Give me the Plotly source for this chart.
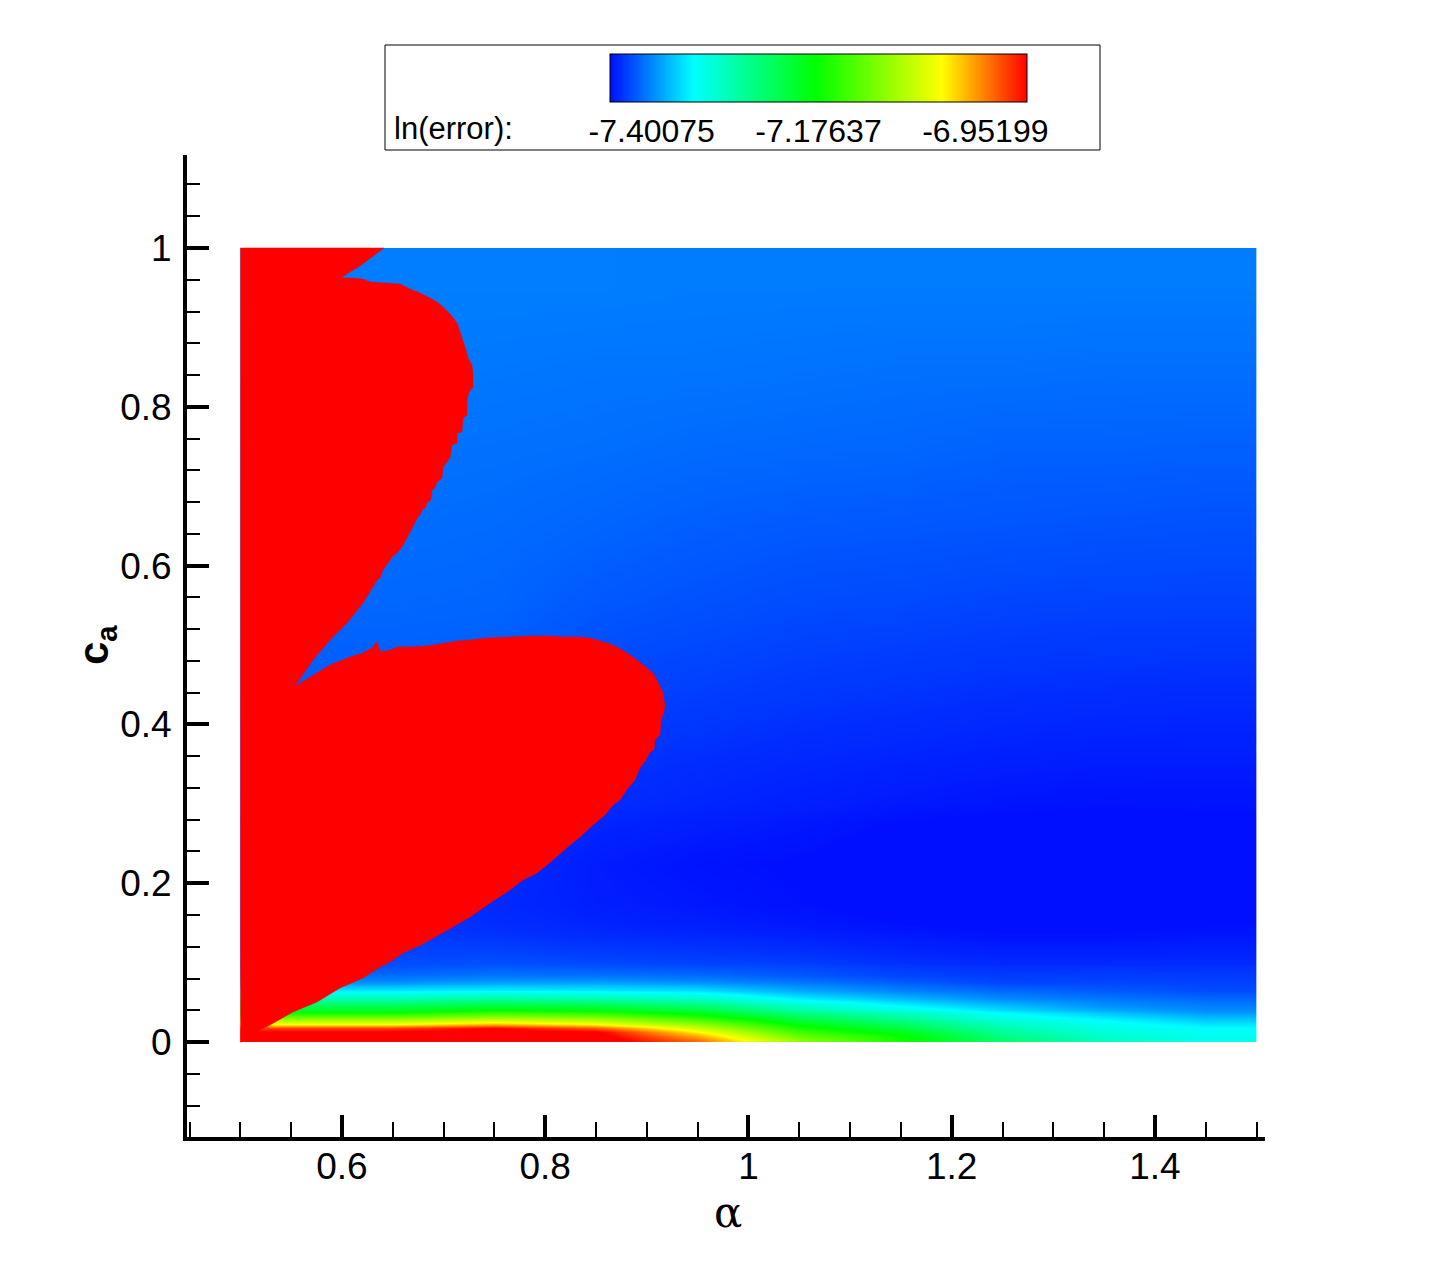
import numpy as np
import plotly.graph_objects as go

# ---------------- data ----------------
alpha_edges = [0.5, 0.6, 0.7, 0.8, 0.9, 1.0, 1.1, 1.2, 1.3, 1.4, 1.5]
ca_edges = [0, 0.005, 0.01, 0.015, 0.02, 0.025, 0.03, 0.035, 0.04, 0.05, 0.06, 0.07,
            0.08, 0.09, 0.1, 0.125, 0.15, 0.2, 0.25, 0.3, 0.4, 0.5, 0.6, 0.7, 0.8, 0.9, 1.0]

# ln(error) per alpha column (cell centres 0.55 ... 1.45), bottom -> top
ln_err_a055 = [-6.873, -6.879, -6.890, -6.924, -7.014, -7.070, -7.126, -7.180, -7.230, -7.298, -7.356, -7.395, -7.414,
               -7.425, -7.432, -7.437, -7.440, -7.437, -7.433, -7.428, -7.421, -7.416, -7.413, -7.410, -7.407, -7.405]
ln_err_a065 = [-6.873, -6.879, -6.890, -6.924, -7.014, -7.070, -7.126, -7.180, -7.230, -7.298, -7.356, -7.395, -7.414,
               -7.425, -7.432, -7.437, -7.440, -7.437, -7.433, -7.428, -7.421, -7.416, -7.413, -7.410, -7.407, -7.405]
ln_err_a075 = [-6.873, -6.879, -6.885, -6.896, -6.980, -7.045, -7.098, -7.150, -7.213, -7.286, -7.352, -7.388, -7.409,
               -7.421, -7.432, -7.441, -7.445, -7.442, -7.437, -7.430, -7.422, -7.417, -7.414, -7.411, -7.408, -7.405]
ln_err_a085 = [-6.873, -6.882, -6.890, -6.935, -7.014, -7.064, -7.112, -7.162, -7.221, -7.294, -7.355, -7.388, -7.411,
               -7.424, -7.436, -7.445, -7.450, -7.451, -7.447, -7.440, -7.432, -7.423, -7.417, -7.412, -7.409, -7.405]
ln_err_a095 = [-6.946, -6.972, -7.005, -7.044, -7.084, -7.124, -7.165, -7.199, -7.248, -7.312, -7.361, -7.395, -7.414,
               -7.427, -7.438, -7.447, -7.453, -7.455, -7.450, -7.443, -7.434, -7.426, -7.420, -7.414, -7.409, -7.406]
ln_err_a105 = [-7.088, -7.113, -7.138, -7.163, -7.189, -7.216, -7.242, -7.268, -7.308, -7.354, -7.386, -7.407, -7.423,
               -7.430, -7.441, -7.450, -7.456, -7.457, -7.453, -7.446, -7.437, -7.429, -7.422, -7.415, -7.410, -7.406]
ln_err_a115 = [-7.169, -7.176, -7.197, -7.220, -7.243, -7.265, -7.288, -7.310, -7.345, -7.378, -7.404, -7.420, -7.432,
               -7.437, -7.446, -7.453, -7.460, -7.461, -7.457, -7.448, -7.439, -7.430, -7.423, -7.416, -7.411, -7.406]
ln_err_a125 = [-7.251, -7.264, -7.278, -7.292, -7.307, -7.321, -7.335, -7.349, -7.373, -7.400, -7.416, -7.432, -7.437,
               -7.441, -7.449, -7.456, -7.462, -7.464, -7.459, -7.450, -7.441, -7.432, -7.424, -7.418, -7.411, -7.406]
ln_err_a135 = [-7.304, -7.312, -7.321, -7.329, -7.337, -7.346, -7.360, -7.374, -7.395, -7.409, -7.422, -7.431, -7.436,
               -7.441, -7.449, -7.456, -7.462, -7.464, -7.460, -7.451, -7.442, -7.433, -7.425, -7.418, -7.412, -7.406]
ln_err_a145 = [-7.332, -7.336, -7.340, -7.344, -7.356, -7.369, -7.381, -7.394, -7.404, -7.416, -7.429, -7.433, -7.437,
               -7.441, -7.448, -7.454, -7.460, -7.462, -7.459, -7.451, -7.443, -7.433, -7.426, -7.419, -7.412, -7.406]

# boundary of the saturated (red) region: alpha, c_a
red_alpha = [0.500, 0.6413, 0.6295, 0.6177, 0.6079, 0.5990, 0.6079, 0.6207, 0.6276, 0.6502, 0.6571, 0.6669, 0.6768,
             0.6866, 0.6935, 0.6994, 0.7063, 0.7132, 0.7161, 0.7191, 0.7220, 0.7240, 0.7279, 0.7289, 0.7289, 0.7250,
             0.7230, 0.7230, 0.7191, 0.7181, 0.7132, 0.7132, 0.7082, 0.7063, 0.6994, 0.6984, 0.6935, 0.6915, 0.6886,
             0.6876, 0.6836, 0.6827, 0.6787, 0.6768, 0.6738, 0.6718, 0.6669, 0.6640, 0.6590, 0.6541, 0.6492, 0.6453,
             0.6403, 0.6374, 0.6344, 0.6207, 0.6049, 0.5882, 0.5715, 0.5557, 0.5528,
             0.5557, 0.5715, 0.5882, 0.6079, 0.6207, 0.6295, 0.6344, 0.6364, 0.6384, 0.6472, 0.6541, 0.6669, 0.6836,
             0.6964, 0.7132, 0.7260, 0.7427, 0.7653, 0.7850, 0.8047, 0.8175, 0.8342, 0.8440, 0.8539, 0.8637, 0.8706,
             0.8804, 0.8903, 0.8991, 0.9060, 0.9109, 0.9159, 0.9178, 0.9159, 0.9139, 0.9129, 0.9080, 0.9070, 0.9031,
             0.8991, 0.8932, 0.8883, 0.8814, 0.8736, 0.8667, 0.8588, 0.8470, 0.8342, 0.8244, 0.8076, 0.7919, 0.7781,
             0.7624, 0.7456, 0.7260, 0.7092, 0.6866, 0.6738, 0.6600, 0.6472, 0.6374, 0.6207, 0.5980, 0.5754, 0.5518,
             0.5291, 0.5095, 0.5026, 0.5016, 0.500]
red_ca = [1.0, 1.0, 0.9887, 0.9773, 0.9698, 0.9622, 0.9622, 0.9610, 0.9572, 0.9559, 0.9547, 0.9484, 0.9433,
          0.9370, 0.9320, 0.9257, 0.9169, 0.9055, 0.8942, 0.8841, 0.8715, 0.8615, 0.8526, 0.8401, 0.8249, 0.8186,
          0.8086, 0.7897, 0.7859, 0.7683, 0.7670, 0.7544, 0.7519, 0.7355, 0.7242, 0.7103, 0.7053, 0.6977, 0.6952,
          0.6826, 0.6801, 0.6738, 0.6700, 0.6637, 0.6599, 0.6537, 0.6423, 0.6360, 0.6234, 0.6159, 0.6108, 0.6033,
          0.5945, 0.5844, 0.5819, 0.5529, 0.5277, 0.5063, 0.4811, 0.4521, 0.4471,
          0.4496, 0.4622, 0.4748, 0.4849, 0.4899, 0.4962, 0.5038, 0.4962, 0.4912, 0.4937, 0.4975, 0.4975, 0.4987,
          0.5013, 0.5050, 0.5063, 0.5088, 0.5101, 0.5113, 0.5113, 0.5101, 0.5101, 0.5088, 0.5050, 0.5013, 0.4975,
          0.4899, 0.4811, 0.4723, 0.4647, 0.4534, 0.4395, 0.4219, 0.4118, 0.4055, 0.3866, 0.3804, 0.3678, 0.3652,
          0.3552, 0.3451, 0.3300, 0.3199, 0.3048, 0.2985, 0.2859, 0.2733, 0.2582, 0.2481, 0.2292, 0.2128, 0.2040,
          0.1889, 0.1751, 0.1574, 0.1448, 0.1285, 0.1196, 0.1121, 0.1008, 0.0945, 0.0806, 0.0680, 0.0504, 0.0378,
          0.0214, 0.0088, 0.0025, 0.0, 0.0]

cbar_ticks = [-7.40075, -7.17637, -6.95199]
cbar_ticktext = ["-7.40075", "-7.17637", "-6.95199"]
z_min, z_max = -7.45685, -6.89590

x_tickvals = [0.6, 0.8, 1.0, 1.2, 1.4]
x_ticktext = ["0.6", "0.8", "1", "1.2", "1.4"]
y_tickvals = [0, 0.2, 0.4, 0.6, 0.8, 1.0]
y_ticktext = ["0", "0.2", "0.4", "0.6", "0.8", "1"]

# ---------------- figure ----------------
z = np.column_stack([ln_err_a055, ln_err_a065, ln_err_a075, ln_err_a085, ln_err_a095,
                     ln_err_a105, ln_err_a115, ln_err_a125, ln_err_a135, ln_err_a145])

colorscale = [[0.0, "rgb(0,15,255)"], [0.2, "rgb(0,255,255)"], [0.494, "rgb(0,255,0)"],
              [0.796, "rgb(255,255,0)"], [1.0, "rgb(255,0,0)"]]

W, H = 1441, 1281
L, R, T, B = 187, 1441 - 1265, 155, 1281 - 1137
pw, ph = W - L - R, H - T - B


def px(xp):
    return (xp - L) / pw


def py(yp):
    return (H - B - yp) / ph


fig = go.Figure()
fig.add_trace(go.Heatmap(
    x=alpha_edges, y=ca_edges, z=z, zmin=z_min, zmax=z_max, zsmooth="best",
    colorscale=colorscale, hoverinfo="skip",
    colorbar=dict(
        orientation="h", lenmode="pixels", len=417, thicknessmode="pixels", thickness=48,
        x=px(818.5), xanchor="center", y=py(54), yanchor="top", xpad=0, ypad=0,
        outlinewidth=1, outlinecolor="black",
        tickvals=cbar_ticks, ticktext=cbar_ticktext, ticks="outside", ticklen=2,
        tickcolor="rgba(0,0,0,0)",
        tickfont=dict(family="Liberation Sans, Arial, sans-serif", size=32, color="black"),
    ),
))
fig.add_trace(go.Scatter(
    x=red_alpha, y=red_ca, mode="lines", fill="toself", fillcolor="rgb(255,0,0)",
    line=dict(color="rgb(255,0,0)", width=0.5), hoverinfo="skip", showlegend=False,
))

axis_font = dict(family="Liberation Sans, Arial, sans-serif", size=37, color="black")
fig.update_layout(
    width=W, height=H, margin=dict(l=L, r=R, t=T, b=B, pad=0),
    paper_bgcolor="white", plot_bgcolor="white", showlegend=False,
    xaxis=dict(range=[0.4475, 1.5083], showgrid=False, zeroline=False,
               showline=True, linecolor="black", linewidth=4,
               tickvals=x_tickvals, ticktext=x_ticktext, ticks="inside", ticklen=22,
               tickwidth=4, tickcolor="black", tickfont=axis_font, ticklabelstandoff=-6,
               minor=dict(tick0=0, dtick=0.05, ticks="inside", ticklen=15, tickwidth=1.5,
                          tickcolor="black", showgrid=False)),
    yaxis=dict(range=[-0.1196, 1.1171], showgrid=False, zeroline=False,
               showline=True, linecolor="black", linewidth=4,
               tickvals=y_tickvals, ticktext=y_ticktext, ticks="inside", ticklen=22,
               tickwidth=4, tickcolor="black", tickfont=axis_font, ticklabelstandoff=4,
               minor=dict(tick0=0, dtick=0.04, ticks="inside", ticklen=13, tickwidth=1.5,
                          tickcolor="black", showgrid=False)),
    shapes=[dict(type="rect", xref="paper", yref="paper",
                 x0=px(385), x1=px(1100), y0=py(150), y1=py(45),
                 line=dict(color="black", width=1), fillcolor="rgba(0,0,0,0)", layer="below")],
    annotations=[
        dict(text="ln(error):", xref="paper", yref="paper", x=px(392), y=py(129),
             xanchor="left", yanchor="middle", showarrow=False,
             font=dict(family="Liberation Sans, Arial, sans-serif", size=31, color="black")),
        dict(text="α", xref="paper", yref="paper", x=px(728), y=py(1212),
             xanchor="center", yanchor="middle", showarrow=False,
             font=dict(family="DejaVu Serif, serif", size=42, color="black")),
        dict(text="<b>c</b><sub><b>a</b></sub>", xref="paper", yref="paper", x=px(96), y=py(645),
             xanchor="center", yanchor="middle", showarrow=False, textangle=-90,
             font=dict(family="Liberation Sans, Arial, sans-serif", size=42, color="black")),
    ],
)

fig.write_html("out.html", config={"displayModeBar": False},
               post_script="document.body.style.margin='0';")
